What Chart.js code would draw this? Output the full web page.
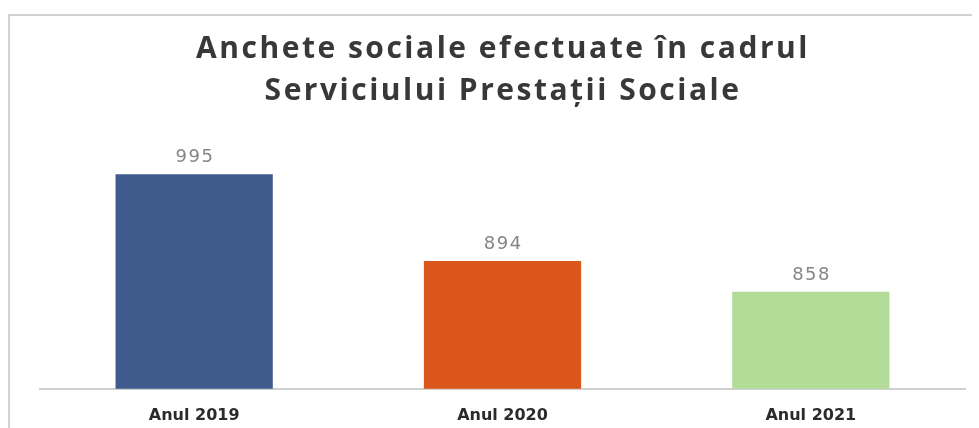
<!DOCTYPE html>
<html>
<head>
<meta charset="utf-8">
<script src="https://cdn.jsdelivr.net/npm/chart.js@4/dist/chart.umd.min.js"></script>
<style>
  html, body { margin: 0; padding: 0; background: #fff; }
  #wrap { position: relative; width: 979px; height: 428px; overflow: hidden; }
  #frame {
    position: absolute; left: 8px; top: 14px; width: 962px; height: 430px;
    border-left: 2px solid #d2d2d2; border-top: 2px solid #d2d2d2;
  }
  #chart { position: absolute; left: 0; top: 0; }
</style>
</head>
<body>
<div id="wrap">
  <div id="frame"></div>
  <canvas id="chart" width="979" height="448"></canvas>
</div>
<script>
const categorii = ["Anul 2019", "Anul 2020", "Anul 2021"];
const anchete = [995, 894, 858];
const culori = ["#3f5b8d", "#db561b", "#b2dc98"];
const titlu = ["Anchete sociale efectuate în cadrul", "Serviciului Prestații Sociale"];

// titlul, desenat cu spatiere mai larga intre litere
const titluLarg = {
  id: "titluLarg",
  afterDraw(chart) {
    const { ctx } = chart;
    ctx.save();
    ctx.font = "bold 30px 'Open Sans'";
    ctx.letterSpacing = "2.5px";
    ctx.fillStyle = "#383838";
    ctx.textAlign = "center";
    ctx.textBaseline = "alphabetic";
    titlu.forEach((linie, i) => {
      ctx.fillText(linie, 503, 58 + i * 42);
    });
    ctx.restore();
  }
};

// etichete cu valoarea deasupra barelor
const eticheteValori = {
  id: "eticheteValori",
  afterDatasetsDraw(chart) {
    const { ctx } = chart;
    const meta = chart.getDatasetMeta(0);
    ctx.save();
    ctx.font = "18px 'DejaVu Sans'";
    ctx.letterSpacing = "1.5px";
    ctx.fillStyle = "#858585";
    ctx.textAlign = "center";
    ctx.textBaseline = "middle";
    meta.data.forEach((bar, i) => {
      ctx.fillText(chart.data.datasets[0].data[i], bar.x + 0.75, bar.y - 17);
    });
    ctx.restore();
  }
};

new Chart(document.getElementById("chart").getContext("2d"), {
  type: "bar",
  data: {
    labels: categorii,
    datasets: [{
      label: "Anchete sociale",
      data: anchete,
      backgroundColor: culori,
      borderWidth: 0,
      barPercentage: 0.51,
      categoryPercentage: 1
    }]
  },
  options: {
    responsive: false,
    animation: false,
    layout: { padding: { left: 40, right: 14, top: 170, bottom: 6 } },
    scales: {
      y: { display: false, min: 745, max: 1000 },
      x: {
        grid: { display: false, drawTicks: false },
        border: { display: true, color: "#cfcfcf", width: 2 },
        ticks: {
          padding: 17,
          color: "#2b2b2b",
          font: { family: "'DejaVu Sans'", size: 16, weight: "bold" }
        }
      }
    },
    plugins: {
      legend: { display: false },
      tooltip: { enabled: false },
      title: { display: false }
    }
  },
  plugins: [eticheteValori, titluLarg]
});
</script>
</body>
</html>
